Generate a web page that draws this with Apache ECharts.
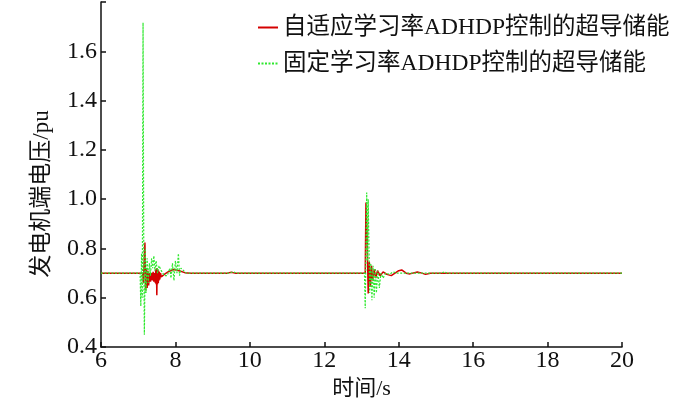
<!DOCTYPE html>
<html>
<head>
<meta charset="utf-8">
<script src="https://cdn.jsdelivr.net/npm/echarts@6/dist/echarts.min.js"></script>
<style>
  html, body { margin: 0; padding: 0; background: #fff; }
  #chart { width: 700px; height: 405px; }
</style>
</head>
<body>
<div id="chart"></div>
<script>
// series names (legend)
const seriesNames = ['自适应学习率ADHDP控制的超导储能', '固定学习率ADHDP控制的超导储能'];

// adaptive learning rate (red) - time / voltage
const redT = [6, 7.12, 7.14, 7.16, 7.18, 7.2, 7.22, 7.24, 7.26, 7.28, 7.3, 7.33, 7.36, 7.38, 7.4, 7.42, 7.44,
  7.46, 7.47, 7.48, 7.49, 7.5, 7.51, 7.52, 7.53, 7.54, 7.55, 7.56, 7.57, 7.58, 7.6, 7.62, 7.7, 7.8, 7.95, 8.1, 8.25,
  8.4, 9.4, 9.5, 9.6, 13.1, 13.12, 13.15, 13.18, 13.21, 13.24, 13.27, 13.3, 13.34, 13.38, 13.43, 13.5,
  13.58, 13.68, 13.8, 13.9, 14.0, 14.08, 14.2, 14.3, 14.5, 14.62, 14.72, 14.85, 15, 20];
const redV = [0.70, 0.70, 0.66, 0.75, 0.824, 0.63, 0.72, 0.64, 0.71, 0.65, 0.70, 0.665, 0.70, 0.67, 0.705, 0.665, 0.70,
  0.66, 0.715, 0.655, 0.72, 0.61, 0.72, 0.655, 0.715, 0.66, 0.71, 0.67, 0.705, 0.675, 0.70, 0.685, 0.695, 0.705, 0.715, 0.71, 0.702,
  0.70, 0.70, 0.704, 0.70, 0.70, 0.987, 0.855, 0.618, 0.745, 0.645, 0.73, 0.67, 0.715, 0.68, 0.71, 0.69,
  0.705, 0.695, 0.69, 0.70, 0.71, 0.713, 0.70, 0.697, 0.705, 0.70, 0.695, 0.70, 0.70, 0.70];

// fixed learning rate (green) - time / voltage
const greenT = [6, 7.05, 7.07, 7.09, 7.11, 7.13, 7.15, 7.165, 7.19, 7.21, 7.24, 7.27, 7.3, 7.33, 7.36, 7.39,
  7.42, 7.45, 7.48, 7.52, 7.56, 7.62, 7.7, 7.78, 7.85, 7.88, 7.92, 7.96, 8.0, 8.04, 8.08, 8.11, 8.15, 8.22,
  8.3, 9.45, 9.55, 9.65, 13.08, 13.1, 13.14, 13.16, 13.18, 13.22, 13.25, 13.28, 13.31, 13.34, 13.37, 13.4,
  13.44, 13.48, 13.52, 13.58, 13.65, 13.75, 13.85, 13.95, 14.1, 15.15, 15.22, 15.3, 20];
const greenV = [0.70, 0.70, 0.566, 0.78, 0.60, 1.716, 0.75, 0.45, 0.80, 0.62, 0.76, 0.66, 0.74, 0.69, 0.76, 0.72,
  0.77, 0.71, 0.75, 0.70, 0.73, 0.71, 0.69, 0.69, 0.72, 0.68, 0.74, 0.67, 0.75, 0.70, 0.78, 0.69, 0.72, 0.71,
  0.70, 0.70, 0.705, 0.70, 0.70, 0.558, 1.027, 0.75, 1.00, 0.62, 0.74, 0.59, 0.73, 0.60, 0.72, 0.62,
  0.71, 0.64, 0.70, 0.68, 0.70, 0.695, 0.705, 0.70, 0.70, 0.70, 0.705, 0.70, 0.70];

const zip = (ts, vs) => ts.map((t, i) => [t, vs[i]]);

const serif = '"Liberation Serif", "Noto Sans CJK SC", serif';

const chart = echarts.init(document.getElementById('chart'));
chart.setOption({
  animation: false,
  backgroundColor: '#fff',
  grid: { left: 101, right: 78, top: 2, bottom: 50 },
  legend: {
    orient: 'vertical',
    left: 252,
    top: 10,
    itemWidth: 20,
    itemHeight: 12,
    itemGap: 11,
    itemStyle: { opacity: 0 },
    textStyle: { fontFamily: serif, fontSize: 23.5, color: '#111', lineHeight: 25 },
    data: seriesNames
  },
  xAxis: {
    type: 'value',
    min: 6, max: 20, interval: 2,
    name: '时间/s',
    nameLocation: 'middle',
    nameGap: 24,
    nameTextStyle: { fontFamily: serif, fontSize: 22, color: '#111' },
    axisLine: { lineStyle: { color: '#111', width: 1.5 } },
    axisTick: { inside: true, length: 5, lineStyle: { color: '#111', width: 1.5 } },
    axisLabel: { fontFamily: serif, fontSize: 24, color: '#111', margin: 2 },
    splitLine: { show: false }
  },
  yAxis: {
    type: 'value',
    min: 0.4, max: 1.8, interval: 0.2,
    axisLine: { show: true, lineStyle: { color: '#111', width: 1.5 } },
    axisTick: { show: true, inside: true, length: 5, lineStyle: { color: '#111', width: 1.5 } },
    axisLabel: {
      fontFamily: serif, fontSize: 24, color: '#111', margin: 4,
      formatter: v => (v > 1.75 ? '' : v.toFixed(1))
    },
    splitLine: { show: false }
  },
  graphic: [{
    type: 'text',
    x: 42, y: 194,
    rotation: Math.PI / 2,
    style: {
      text: '发电机端电压/pu',
      font: '23px ' + serif,
      fill: '#111',
      align: 'center',
      verticalAlign: 'middle'
    }
  }],
  series: [
    {
      name: seriesNames[0],
      type: 'line',
      showSymbol: false,
      symbol: 'none',
      data: zip(redT, redV),
      lineStyle: { color: '#d40000', width: 1.5 },
      itemStyle: { color: '#d40000' },
      z: 2
    },
    {
      name: seriesNames[1],
      type: 'line',
      showSymbol: false,
      symbol: 'none',
      data: zip(greenT, greenV),
      lineStyle: { color: '#2ee82e', width: 1.2, type: [2, 1.5] },
      itemStyle: { color: '#2ee82e' },
      z: 3
    }
  ]
});
</script>
</body>
</html>
